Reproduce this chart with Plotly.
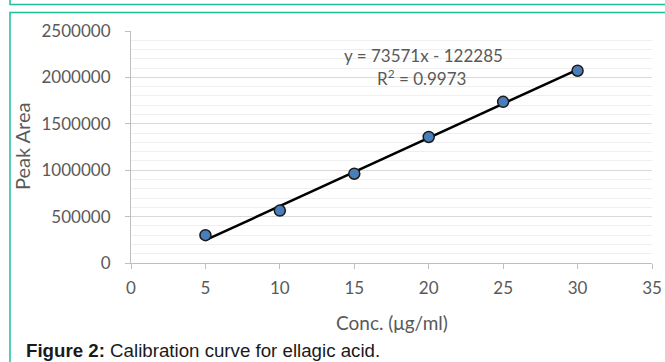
import plotly.graph_objects as go

conc = [5, 10, 15, 20, 25, 30]
peak_area = [300000, 565000, 962000, 1358000, 1737000, 2072000]
slope = 73571
intercept = -122285
r_squared = 0.9973
x_ticks = [0, 5, 10, 15, 20, 25, 30, 35]
y_ticks = [0, 500000, 1000000, 1500000, 2000000, 2500000]

W, H = 665, 362
L, R, T, B = 131, 652, 31, 263

def px(x):
    return (x - L) / (R - L)

def py(y):
    return (B - y) / (B - T)

trend_x = [min(conc), max(conc)]
trend_y = [slope * v + intercept for v in trend_x]

fig = go.Figure()
fig.add_trace(go.Scatter(x=trend_x, y=trend_y, mode="lines",
                         line=dict(color="black", width=2.5), hoverinfo="skip"))
fig.add_trace(go.Scatter(x=conc, y=peak_area, mode="markers",
                         marker=dict(size=11, color="#4a7ebb",
                                     line=dict(color="#1a1a1a", width=1.5))))

tickfont = dict(family="Lato", size=17, color="#595959")
fig.update_xaxes(range=[0, 35], tickvals=x_ticks, ticktext=[str(v) for v in x_ticks],
                 showgrid=False, zeroline=False, showline=True, linecolor="#bfbfbf",
                 linewidth=1.2, ticks="outside", ticklen=5, tickcolor="#bfbfbf",
                 tickfont=tickfont, ticklabelstandoff=4, automargin=False)
fig.update_yaxes(range=[0, 2500000], tickvals=y_ticks, ticktext=[str(v) for v in y_ticks],
                 showgrid=True, gridcolor="#d9d9d9", gridwidth=1, zeroline=False,
                 showline=True, linecolor="#bfbfbf", linewidth=1.2,
                 ticks="outside", ticklen=5, tickcolor="#bfbfbf",
                 tickfont=tickfont, ticklabelstandoff=11, automargin=False,
                 minor=dict(dtick=100000, showgrid=True, gridcolor="#efefef", gridwidth=1))

teal = "#1dbf9c"
shapes = [
    dict(type="rect", xref="paper", yref="paper", x0=px(10), x1=px(700), y0=py(-20), y1=py(4.5),
         line=dict(color=teal, width=1.5), fillcolor="rgba(0,0,0,0)", layer="below"),
    dict(type="rect", xref="paper", yref="paper", x0=px(10), x1=px(700), y0=py(400), y1=py(12.5),
         line=dict(color=teal, width=1.5), fillcolor="rgba(0,0,0,0)", layer="below"),
]

def ann(text, x, y, size, color="#595959", family="Lato", xanchor="center", angle=0):
    return dict(text=text, x=px(x), y=py(y), xref="paper", yref="paper",
                xanchor=xanchor, yanchor="middle", textangle=angle, showarrow=False,
                font=dict(family=family, size=size, color=color))

annotations = [
    ann("y = 73571x - 122285", 423, 55, 17),
    ann("R<sup>2</sup> = 0.9973", 421, 77, 17),
    ann("Peak Area", 22, 147, 20, angle=-90),
    ann("Conc. (μg/ml)", 392, 322, 19),
    ann("<b>Figure 2:</b> Calibration curve for ellagic acid.", 24, 350, 18.7,
        color="#1a1a1a", family="Liberation Sans", xanchor="left"),
]

fig.update_layout(width=W, height=H, margin=dict(l=L, r=W - R, t=T, b=H - B),
                  paper_bgcolor="white", plot_bgcolor="white", showlegend=False,
                  shapes=shapes, annotations=annotations)

fig.write_html("out.html")
